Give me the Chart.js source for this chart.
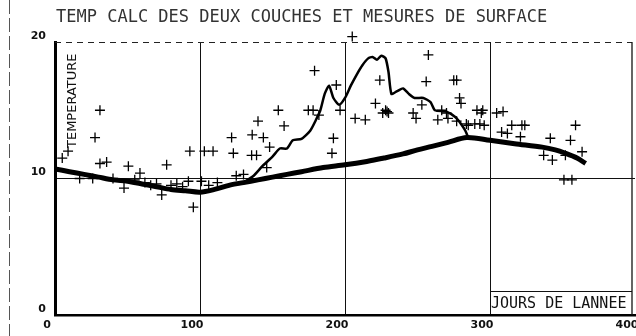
<!DOCTYPE html>
<html>
<head>
  <title>Temp calc des deux couches</title>
  <script src="https://cdn.jsdelivr.net/npm/chart.js"></script>
  <style>
    html, body { margin: 0; padding: 0; background: #fff; overflow: hidden; }
    canvas { display: block; }
  </style>
</head>
<body>
  <canvas id="tempChart" width="636" height="336"></canvas>

  <script>
    // texts
    const chartTitle = 'TEMP CALC DES DEUX COUCHES ET MESURES DE SURFACE';
    const yTitle = 'TEMPERATURE';
    const xTitle = 'JOURS DE LANNEE';
    const xTicks = [0, 100, 200, 300, 400];
    const yTicks = [0, 10, 20];

    // lower (thick) calculated curve
    const deepDays  = [0, 10, 20, 30, 40, 50, 60, 70, 80, 90, 100, 110, 120, 130, 140, 150, 160, 170, 185, 200, 215, 227, 240, 250, 260, 271, 284, 300, 317, 336, 345, 352, 360, 366];
    const deepTemps = [10.7, 10.5, 10.3, 10.1, 9.9, 9.8, 9.6, 9.4, 9.2, 9.1, 9.0, 9.2, 9.5, 9.7, 9.9, 10.1, 10.3, 10.5, 10.8, 11.0, 11.25, 11.5, 11.8, 12.1, 12.35, 12.65, 13.0, 12.8, 12.55, 12.3, 12.1, 11.85, 11.5, 11.1];

    // upper (thin) calculated curve
    const surfDays  = [130, 137, 143, 150, 155, 160, 164, 170, 176, 180, 183, 186, 189, 192, 196, 200, 204, 208, 212, 216, 219, 222, 225, 228, 230, 232, 236, 240, 244, 248, 254, 259, 262, 270, 276, 280, 283, 285];
    const surfTemps = [9.7, 10.2, 10.9, 11.6, 12.2, 12.2, 12.8, 12.9, 13.5, 14.3, 15.0, 16.2, 16.8, 15.9, 15.4, 15.9, 16.8, 17.6, 18.3, 18.8, 18.9, 18.7, 19.0, 18.8, 17.8, 16.2, 16.4, 16.6, 16.2, 15.9, 15.9, 15.6, 15.0, 14.9, 14.5, 14.0, 13.5, 13.0];

    // surface measurements (+)
    const measDays  = [5, 9, 17, 26, 27.6, 31, 31, 35.6, 40, 47.6, 50.6, 55, 58.6, 62, 66, 70, 73.6, 77, 80, 84, 88, 92, 93, 95.4, 101, 103, 106, 109, 112,
                       121.8, 123, 125, 130, 135.6, 136, 139, 140, 143.7, 146, 148, 154, 158, 174.7, 178, 179, 182, 191, 192, 194, 196.6,
                       207, 205, 214, 221, 224, 226, 228, 229, 230, 247, 249, 253, 256, 257.5, 264, 266.7, 270, 271, 275, 277, 277, 279, 280,
                       283.7, 285, 289.5, 291, 293, 294, 295, 296, 304.6, 308, 309, 312, 315, 321, 322, 324, 337, 341.6, 343, 351, 352, 355.5, 356.5, 359, 363.5];
    const measTemps = [11.5, 12.0, 10.0, 10.0, 13.0, 15.0, 11.1, 11.2, 10.0, 9.3, 10.9, 9.9, 10.4, 9.7, 9.5, 9.6, 8.8, 11.0, 9.5, 9.6, 9.4, 9.8, 12.0, 7.9, 9.8, 12.0, 9.5, 12.0, 9.7,
                       13.0, 11.85, 10.2, 10.3, 11.7, 13.2, 11.7, 14.2, 13.0, 10.8, 12.3, 15.0, 13.85, 15.0, 15.0, 17.9, 14.65, 11.85, 12.95, 16.85, 15.0,
                       14.4, 20.4, 14.3, 15.5, 17.2, 14.8, 15.0, 14.9, 14.8, 14.8, 14.4, 15.4, 17.1, 19.05, 14.3, 15.0, 14.8, 14.4, 17.2, 17.2, 14.2, 15.9, 15.5,
                       14.0, 13.9, 14.0, 15.0, 14.0, 14.8, 15.0, 13.9, 14.8, 13.4, 14.9, 13.3, 13.9, 13.06, 13.9, 13.9, 11.7, 12.95, 11.35, 9.9, 11.7, 12.8, 9.9, 13.9, 11.96];

    const toPoints = (xs, ys) => xs.map((x, i) => ({ x: x, y: ys[i] }));

    const decor = {
      id: 'decor',
      afterDraw(chart) {
        const c = chart.ctx;
        const a = chart.chartArea;
        c.save();
        c.strokeStyle = '#222';
        // top dashed frame
        c.lineWidth = 1;
        c.setLineDash([6, 5]);
        c.beginPath(); c.moveTo(a.left, a.top + 0.5); c.lineTo(632, a.top + 0.5); c.stroke();
        // page edge on the far left
        c.setLineDash([14, 4]);
        c.strokeStyle = '#555';
        c.beginPath(); c.moveTo(9.5, 0); c.lineTo(9.5, 336); c.stroke();
        c.setLineDash([]);
        // right frame
        c.strokeStyle = '#111';
        c.lineWidth = 1.3;
        c.beginPath(); c.moveTo(632, a.top); c.lineTo(632, a.bottom); c.stroke();
        // box of the axis name
        const bx = chart.scales.x.getPixelForValue(300);
        c.lineWidth = 1;
        c.beginPath(); c.moveTo(bx, 291.5); c.lineTo(632, 291.5); c.stroke();

        c.fillStyle = '#333';
        c.font = '17px "DejaVu Sans Mono"';
        c.textBaseline = 'middle';
        c.textAlign = 'left';
        c.fillText(chartTitle, 56, 18);

        c.fillStyle = '#111';
        c.font = '15px "DejaVu Sans Mono"';
        c.fillText(xTitle, bx + 1, 304);

        c.translate(73, 148);
        c.rotate(-Math.PI / 2);
        c.font = '13px "DejaVu Sans"';
        c.fillText(yTitle, 0, 0);
        c.restore();
      }
    };

    new Chart(document.getElementById('tempChart'), {
      type: 'scatter',
      data: {
        datasets: [{
          label: 'mesures',
          data: toPoints(measDays, measTemps),
          pointStyle: 'cross',
          pointRadius: 5,
          borderColor: '#000',
          borderWidth: 1.3,
          clip: false
        }, {
          label: 'couche superieure',
          data: toPoints(surfDays, surfTemps),
          showLine: true,
          pointRadius: 0,
          borderColor: '#000',
          borderWidth: 2.5,
          tension: 0.2
        }, {
          label: 'couche inferieure',
          data: toPoints(deepDays, deepTemps),
          showLine: true,
          pointRadius: 0,
          borderColor: '#000',
          borderWidth: 5,
          tension: 0.3
        }]
      },
      options: {
        responsive: false,
        animation: false,
        layout: { padding: { top: 42, right: 1, left: 0, bottom: 0 }, autoPadding: false },
        plugins: { legend: { display: false }, tooltip: { enabled: false } },
        scales: {
          x: {
            type: 'linear', min: 0, max: 400,
            afterBuildTicks: s => { s.ticks = xTicks.map(v => ({ value: v })); },
            afterFit: s => { s.height = 21; s.paddingLeft = 0; s.paddingRight = 0; },
            grid: {
              drawTicks: false,
              color: ctx => (ctx.tick && [100, 200, 300].includes(ctx.tick.value)) ? '#111' : 'rgba(0,0,0,0)',
              lineWidth: 1
            },
            border: { color: '#000', width: 2.5 },
            ticks: {
              color: '#111', padding: 4, labelOffset: -8, maxRotation: 0,
              font: { family: 'DejaVu Sans', size: 11, weight: 'bold' }
            }
          },
          y: {
            min: 0, max: 20,
            afterBuildTicks: s => { s.ticks = yTicks.map(v => ({ value: v })); },
            afterFit: s => { s.width = 55; s.paddingTop = 0; s.paddingBottom = 0; },
            grid: {
              drawTicks: false,
              color: ctx => (ctx.tick && ctx.tick.value === 10) ? '#111' : 'rgba(0,0,0,0)',
              lineWidth: 1
            },
            border: { color: '#000', width: 3 },
            ticks: {
              color: '#111', padding: 9, labelOffset: -6,
              font: { family: 'DejaVu Sans', size: 11, weight: 'bold' }
            }
          }
        }
      },
      plugins: [decor]
    });
  </script>
</body>
</html>
